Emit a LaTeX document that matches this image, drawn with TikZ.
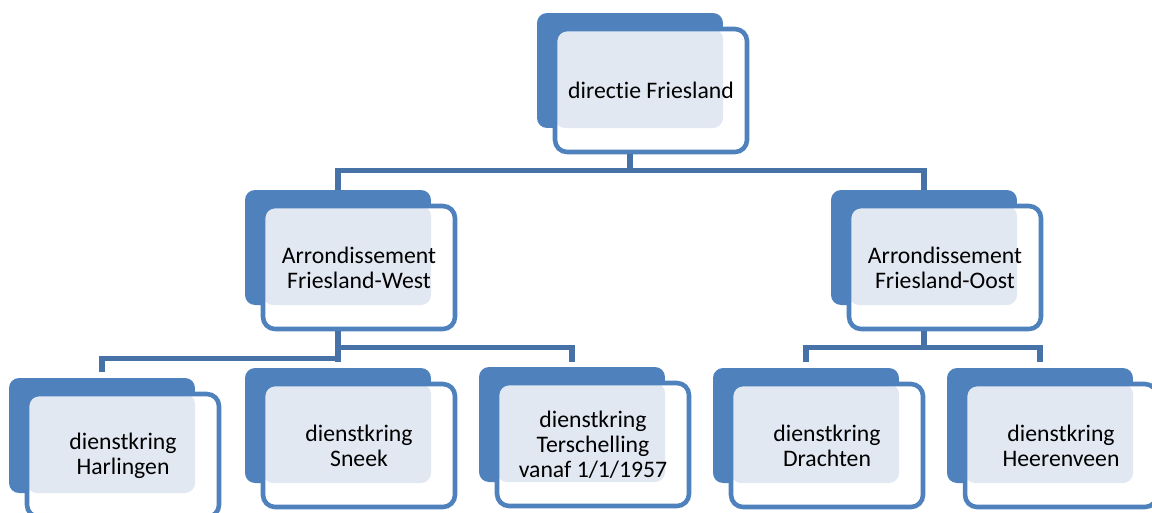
\documentclass[tikz,border=0pt]{standalone}
\usepackage{fontspec}
\setmainfont{Carlito}[Ligatures={NoCommon,NoContextual,NoRare}]
\usetikzlibrary{calc}
\definecolor{boxblue}{RGB}{79,129,189}
\definecolor{linkblue}{RGB}{70,114,168}
\definecolor{tint}{RGB}{226,232,242}

\begin{document}
\begin{tikzpicture}[x=0.02cm,y=-0.02cm,
    back/.style={rectangle,rounded corners=0.2cm,fill=boxblue,minimum width=3.72cm,minimum height=2.3cm,inner sep=0pt},
    front/.style={rectangle,rounded corners=0.24cm,draw=boxblue,line width=2.6pt,fill=white,
      minimum width=3.84cm,minimum height=2.46cm,inner sep=0pt,align=center,
      font=\fontsize{13.5}{14.2}\selectfont,
      path picture={\fill[tint,rounded corners=0.2cm] (path picture bounding box.north west) rectangle ($(path picture bounding box.center)+(72,37.5)$);}},
    conn/.style={draw=linkblue,line width=3pt}]
    \useasboundingbox (0,0) rectangle (1152,512);

    \node at (630,70.5) [back] (dfb) {};
    \node at (651,90.5) [front] (df) {directie Friesland};

    \node at (338,247.5) [back] (fwb) {};
    \node at (359,267.5) [front] (fw) {Arrondissement\\Friesland-West};
    \node at (924,247.5) [back] (fob) {};
    \node at (945,267.5) [front] (fo) {Arrondissement\\Friesland-Oost};

    \node at (102,435.5) [back] (hb) {};
    \node at (123,455.5) [front] (h) {dienstkring\\Harlingen};
    \node at (338,425.5) [back] (sb) {};
    \node at (359,445.5) [front] (s) {dienstkring\\Sneek};
    \node at (572,424.5) [back] (tb) {};
    \node at (593,444.5) [front] (t) {dienstkring\\Terschelling\\vanaf 1/1/1957};
    \node at (806,425.5) [back] (db) {};
    \node at (827,445.5) [front] (d) {dienstkring\\Drachten};
    \node at (1040,425.5) [back] (heb) {};
    \node at (1061,445.5) [front] (he) {dienstkring\\Heerenveen};

    \draw[conn] (dfb |- df.south) -- ++(0,16) -| (fwb.north);
    \draw[conn] ($(dfb |- df.south)+(0,16)$) -| (fob.north);
    \draw[conn] (fwb |- fw.south) -- ($(sb.north)+(0,-6)$);
    \draw[conn] ($(fwb |- fw.south)+(0,16)$) -| ($(tb.north)+(0,-5)$);
    \draw[conn] ($(fwb |- fw.south)+(0,27)$) -| ($(hb.north)+(0,-6)$);
    \draw[conn] (fob |- fo.south) -- ++(0,16) -| ($(db.north)+(0,-6)$);
    \draw[conn] ($(fob |- fo.south)+(0,16)$) -| ($(heb.north)+(0,-6)$);
\end{tikzpicture}
\end{document}
